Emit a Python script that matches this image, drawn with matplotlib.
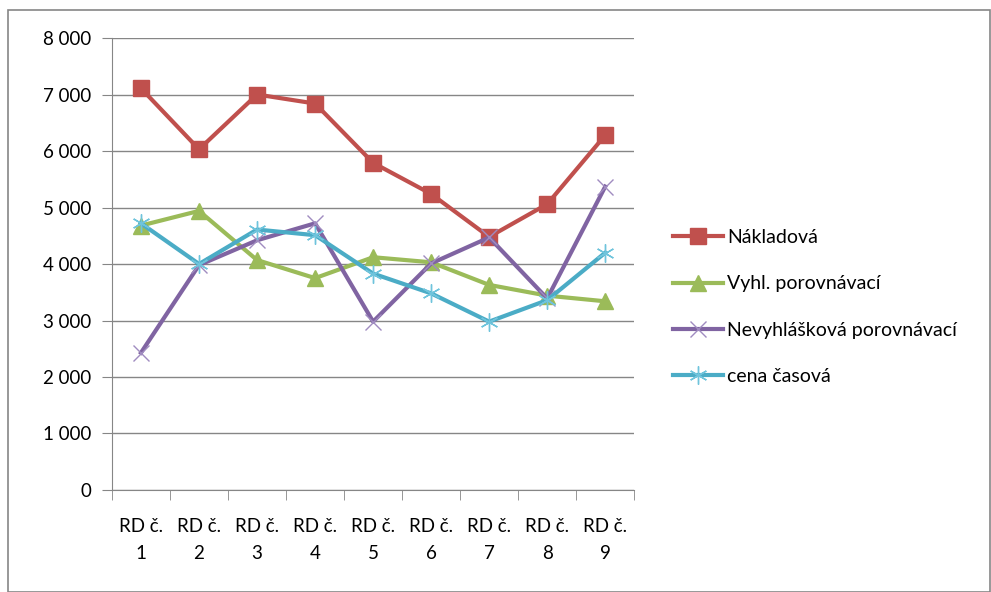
import matplotlib.pyplot as plt
from matplotlib.patches import Rectangle
from matplotlib.ticker import FuncFormatter, FixedLocator

plt.rcParams['font.family'] = ['Lato', 'DejaVu Sans']

categories = ["RD č.\n1", "RD č.\n2", "RD č.\n3", "RD č.\n4", "RD č.\n5",
              "RD č.\n6", "RD č.\n7", "RD č.\n8", "RD č.\n9"]
nakladova = [7110, 6030, 7000, 6840, 5790, 5240, 4480, 5060, 6280]
vyhl = [4680, 4940, 4070, 3750, 4120, 4030, 3630, 3440, 3340]
nevyhl = [2430, 3980, 4420, 4720, 2980, 4010, 4470, 3390, 5370]
cena = [4720, 4000, 4610, 4510, 3830, 3480, 2980, 3360, 4200]

fig = plt.figure(figsize=(9.91, 5.92), dpi=100)
fig.patches.append(Rectangle((8 / 991, 0), 1 - 9 / 991, 1 - 10 / 592,
                             transform=fig.transFigure, fill=False,
                             edgecolor='#868686', linewidth=1.2))
ax = fig.add_axes([0.113, 0.1723, 0.527, 0.7635])

x = range(len(categories))
ax.plot(x, nakladova, color='#C0504D', lw=3, marker='s', ms=11,
        label='Nákladová')
ax.plot(x, vyhl, color='#9BBB59', lw=3, marker='^', ms=11,
        label='Vyhl. porovnávací')
ax.plot(x, nevyhl, color='#8064A2', lw=3, marker='x', ms=11, mew=1,
        mec='#A08CC0', label='Nevyhlášková porovnávací')
ax.plot(x, cena, color='#4BACC6', lw=3, marker=(6, 2, 0), ms=13, mew=1,
        mec='#6FC4DC', label='cena časová')

ax.set_xlim(-0.5, 8.5)
ax.set_ylim(0, 8000)
ax.set_yticks(range(0, 8001, 1000))
ax.yaxis.set_major_formatter(FuncFormatter(
    lambda v, p: f"{int(v):,}".replace(",", " ") if v >= 1000 else f"{int(v)}"))
ax.set_xticks(list(x))
ax.set_xticklabels(categories, linespacing=1.75)
ax.xaxis.set_minor_locator(FixedLocator([i - 0.5 for i in range(len(categories) + 1)]))
ax.tick_params(axis='x', which='major', length=0, pad=20, labelsize=13.5)
ax.tick_params(axis='x', which='minor', length=7, color='#868686', direction='out')
ax.tick_params(axis='y', length=7, color='#868686', labelsize=13.5, pad=8)

ax.grid(axis='y', color='#868686', lw=1)
ax.set_axisbelow(True)
for s in ['top', 'right']:
    ax.spines[s].set_visible(False)
for s in ['left', 'bottom']:
    ax.spines[s].set_color('#868686')

ax.legend(loc='center left', bbox_to_anchor=(1.04, 0.405), frameon=False,
          fontsize=14, labelspacing=1.5, handlelength=2.6, handletextpad=0.2)

fig.savefig('out.png', dpi=100)
